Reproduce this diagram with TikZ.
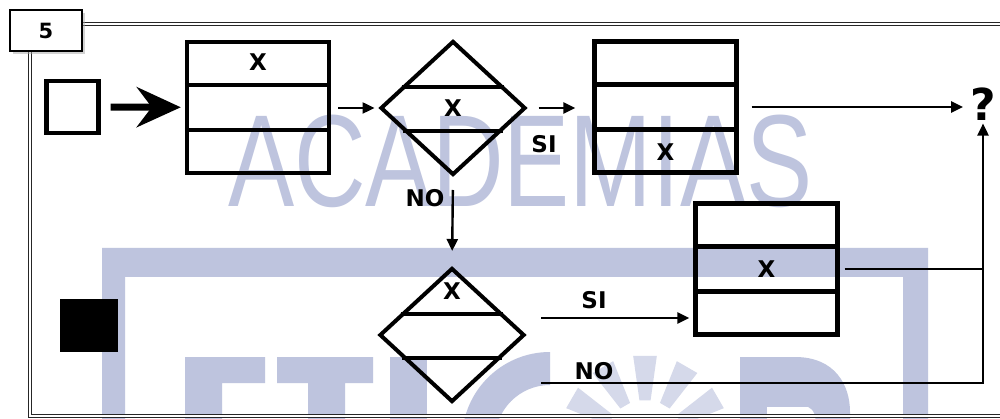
\documentclass[tikz,border=0pt]{standalone}
\usepackage{fontspec}
\setmainfont{DejaVu Sans}
\newfontfamily\marcafont{Liberation Sans}
\usetikzlibrary{arrows.meta, positioning, shapes.geometric, shadows, calc}
\definecolor{marca}{RGB}{190,196,222}
\tikzset{
  tabla/.style={
    rectangle, draw, line width=4.4pt,
    minimum width=142pt, minimum height=131pt, inner sep=0pt
  },
  rombo/.style={
    diamond, draw, line width=4pt,
    minimum width=145pt, minimum height=134pt, inner sep=0pt
  },
  letra/.style={font=\bfseries\fontsize{23}{23}\selectfont, inner sep=0pt},
  flecha/.style={draw=black, line width=2.4pt, -{Triangle[length=12pt,width=11pt]}},
  linea/.style={draw=black, line width=2.4pt},
  marco/.style={draw=gray!30!black, double=white, double distance=1.8pt, line width=1.5pt}
}
\begin{document}
\begin{tikzpicture}[x=1pt,y=-1pt]
\fill[white] (0,0) rectangle (1000,419);
\useasboundingbox (0,0) rectangle (1000,419);
% Marca de agua
\begin{scope}
\clip (0,0) rectangle (1000,419);
\node[anchor=base west, inner sep=0pt, text=marca] (marcaTxt) at (228,207)
  {\scalebox{0.757}[1]{\marcafont\fontsize{131}{131}\selectfont ACADEMIAS}};
\fill[marca, even odd rule] (102,248) rectangle (928,430) (125,277) rectangle (903,430);
\fill[marca] (185,357) rectangle (265,383) (185,357) rectangle (222,430);
\fill[marca] (277,357) rectangle (373,383) (308,357) rectangle (345,430);
\fill[marca] (390,357) rectangle (427,430);
\fill[marca] (550,352) arc[start angle=270, end angle=90, radius=88]
  -- (550,495) arc[start angle=90, end angle=270, radius=55] -- cycle;
\foreach \p in {30,60,90,120,150}
  \fill[marca!65] ({645+40*cos(\p-8)},{440-40*sin(\p-8)}) -- ({645+85*cos(\p-8)},{440-85*sin(\p-8)})
    -- ({645+85*cos(\p+8)},{440-85*sin(\p+8)}) -- ({645+40*cos(\p+8)},{440-40*sin(\p+8)}) -- cycle;
\fill[marca] (740,430) -- (740,357) -- (795,357) .. controls (835,357) and (850,385) .. (850,412)
  -- (850,430) -- cycle;
\fill[white] (767,430) -- (767,407) -- (808,407) .. controls (814,410) and (816,415) .. (816,430) -- cycle;
\end{scope}
% Marco
\draw[marco] (82,24) -- (1003,24);
\draw[marco] (30,51) -- (30,416) -- (1003,416);
\node[draw, line width=2pt, fill=white, minimum width=72pt, minimum height=41pt,
  font=\bfseries\fontsize{21}{21}\selectfont,
  drop shadow={shadow xshift=3pt, shadow yshift=-3pt, fill=gray!70}] (num) at (46,30.5) {5};
% Nodos
\node[draw, line width=4.4pt, minimum size=52pt, inner sep=0pt] (ini) at (72.5,107) {};
\node[fill=black, minimum width=58pt, minimum height=53pt, inner sep=0pt] (neg) at (89,325.5) {};
\node[tabla] (t1) at (258,107.5) {};
\node[rombo] (d1) at (453,108) {};
\node[tabla] (t2) at (665.5,107) {};
\node[tabla] (t3) at (766.5,269) {};
\node[rombo] (d2) at (452,335) {};
\node[font=\bfseries\fontsize{44}{44}\selectfont, inner sep=0pt] (fin) at (983,104) {?};
% Filas
\foreach \t in {t1,t2,t3}
  \foreach \f in {1/3,2/3}
    \draw[line width=4.4pt] ($(\t.north west)!\f!(\t.south west)$) -- ($(\t.north east)!\f!(\t.south east)$);
\foreach \d in {d1,d2} {
  \draw[line width=4pt] ($(\d.north)!0.69!(\d.west)$) -- ($(\d.north)!0.69!(\d.east)$);
  \draw[line width=4pt] ($(\d.south)!0.67!(\d.west)$) -- ($(\d.south)!0.67!(\d.east)$);
}
% Textos
\node[letra] (x1) at ($(t1.north)!1/6!(t1.south)$) {X};
\node[letra] (x2) at (d1) {X};
\node[letra] (x3) at ($(t2.north)!5/6!(t2.south)$) {X};
\node[letra] (x4) at (t3) {X};
\node[letra] (x5) at ($(d2.north)!0.37!(d2.center)$) {X};
\node[letra] (si1) at (544,144) {SI};
\node[letra] (no1) at (425,198) {NO};
\node[letra] (si2) at (594,300) {SI};
\node[letra] (no2) at (594,371) {NO};
% Conexiones
\coordinate (siB) at (541,318);
\coordinate (noB) at (541,383);
\coordinate (esq) at (983,383);
\draw[draw=black, line width=7pt, -{Stealth[length=44pt,width=40pt,inset=15pt]},
  shorten <=10pt, shorten >=4pt] (ini) -- (t1);
\draw[flecha, shorten <=7pt, shorten >=4pt] (t1.east |- d1.west) -- (d1.west);
\draw[flecha, shorten <=11pt, shorten >=17pt] (d1.east) -- (d1.east -| t2.west);
\draw[flecha, shorten <=13pt, shorten >=7pt] (t2.east) -- (t2.east -| fin.west);
\draw[flecha, shorten <=13pt, shorten >=15pt] (d1.south) -- (d2.north);
\draw[flecha, shorten >=4pt] (siB) -- (siB -| t3.west);
\draw[linea, shorten <=5pt] (t3.east) -- (t3.east -| esq);
\draw[flecha, shorten >=3pt] (noB) -- (esq) -- (fin.south);
\end{tikzpicture}
\end{document}
